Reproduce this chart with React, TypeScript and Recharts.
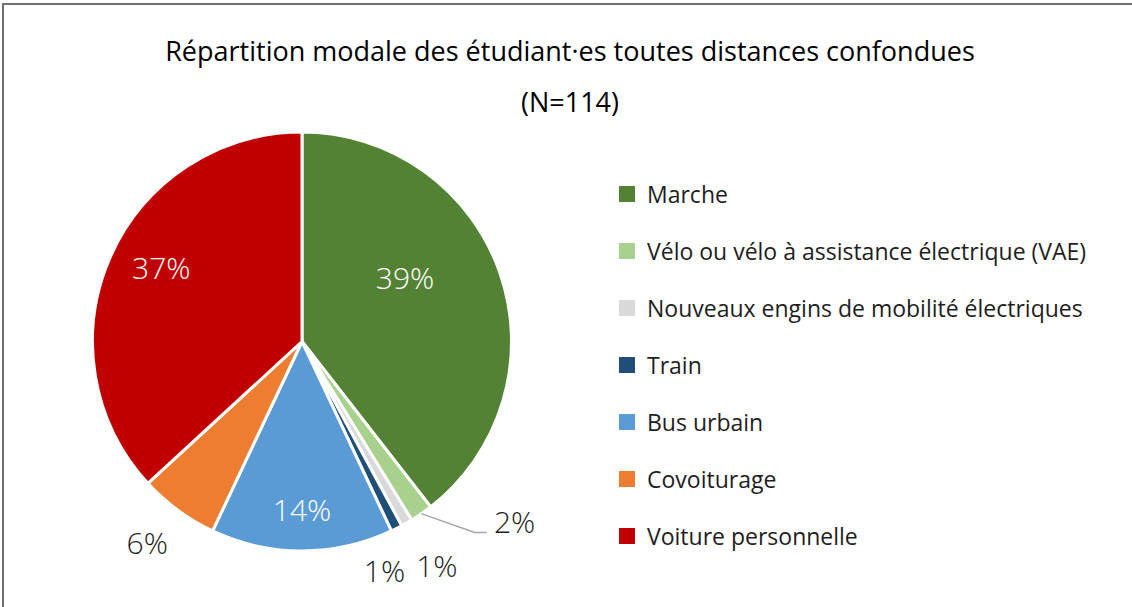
import { PieChart, Pie, Cell, Legend } from 'recharts';

const MODES = [
  'Marche',
  'Vélo ou vélo à assistance électrique (VAE)',
  'Nouveaux engins de mobilité électriques',
  'Train',
  'Bus urbain',
  'Covoiturage',
  'Voiture personnelle',
];
const EFFECTIFS = [45, 2, 1, 1, 16, 7, 42];
const COULEURS = ['#548235', '#A9D18E', '#D9D9D9', '#1F4E79', '#5B9BD5', '#ED7D31', '#C00000'];

// placement des étiquettes : rayon relatif, décalage angulaire (degrés, sens horaire), dedans/dehors
const LABEL_RAYON = [0.58, 1.33, 1.25, 1.16, 0.8, 1.21, 0.76];
const LABEL_DECALAGE = [-13, -15, -1, 7, 0, 1.3, 4.2];
const LABEL_INTERIEUR = [true, false, false, false, true, false, true];

const FONT = '"Open Sans", Lato, sans-serif';
const RAD = Math.PI / 180;

const rows = MODES.map((mode, i) => ({ mode, n: EFFECTIFS[i], fill: COULEURS[i] }));

function renderLabel(props: any) {
  const { cx, cy, midAngle, outerRadius, percent, index } = props;
  const a = (midAngle - LABEL_DECALAGE[index]) * RAD;
  const r = outerRadius * LABEL_RAYON[index];
  const x = cx + r * Math.cos(a);
  const y = cy - r * Math.sin(a);
  const txt = `${Math.round(percent * 100)}%`;
  let leader = null;
  if (index === 1) {
    const m = midAngle * RAD;
    const sx = cx + outerRadius * Math.cos(m);
    const sy = cy - outerRadius * Math.sin(m);
    leader = (
      <polyline
        points={`${sx},${sy} ${x - 40},${y + 11} ${x - 28},${y + 11}`}
        fill="none"
        stroke="#a6a6a6"
        strokeWidth={1.5}
      />
    );
  }
  return (
    <g key={`lbl-${index}`}>
      {leader}
      <text
        x={x}
        y={y}
        textAnchor="middle"
        dominantBaseline="central"
        fontFamily={FONT}
        fontWeight={300}
        fontSize={30}
        fill={LABEL_INTERIEUR[index] ? '#ffffff' : '#1e1e1e'}
      >
        {txt}
      </text>
    </g>
  );
}

function LegendeModes({ payload }: any) {
  return (
    <div style={{ fontFamily: FONT }}>
      {(payload ?? []).map((p: any, i: number) => (
        <div key={i} style={{ height: 57, display: 'flex', alignItems: 'center' }}>
          <span style={{ width: 16, height: 16, background: p.color, marginRight: 12, display: 'inline-block', flex: 'none' }} />
          <span style={{ fontSize: 23, color: '#1e1e1e', whiteSpace: 'nowrap' }}>{p.value}</span>
        </div>
      ))}
    </div>
  );
}

export default function App() {
  return (
    <div style={{ position: 'fixed', left: 0, top: 0, width: 1132, height: 607, background: '#fff', overflow: 'hidden' }}>
      <div
        style={{
          position: 'absolute', left: 2, top: 3, width: 1140, height: 620,
          borderTop: '2px solid #6f6f6f', borderLeft: '2px solid #6f6f6f',
        }}
      />
      <div
        style={{
          position: 'absolute', left: 0, top: 25, width: 1140, textAlign: 'center',
          fontFamily: FONT, fontSize: 27, lineHeight: '51px', color: '#000',
        }}
      >
        <div>Répartition modale des étudiant·es toutes distances confondues</div>
        <div>(N=114)</div>
      </div>
      <div style={{ position: 'absolute', left: 0, top: 0 }}>
        <PieChart width={1132} height={607} margin={{ top: 0, right: 0, bottom: 0, left: 0 }}>
          <Pie
            data={rows}
            dataKey="n"
            nameKey="mode"
            cx={302}
            cy={341.5}
            outerRadius={209.5}
            startAngle={90}
            endAngle={-270}
            stroke="#ffffff"
            strokeWidth={3}
            labelLine={false}
            label={renderLabel}
            isAnimationActive={false}
          >
            {rows.map((r, i) => (
              <Cell key={i} fill={r.fill} />
            ))}
          </Pie>
          <Legend
            layout="horizontal"
            verticalAlign="middle"
            align="center"
            itemSorter={(item: any) => MODES.indexOf(item.value)}
            wrapperStyle={{ left: 619, top: 165, width: 510 }}
            content={<LegendeModes />}
          />
        </PieChart>
      </div>
    </div>
  );
}
